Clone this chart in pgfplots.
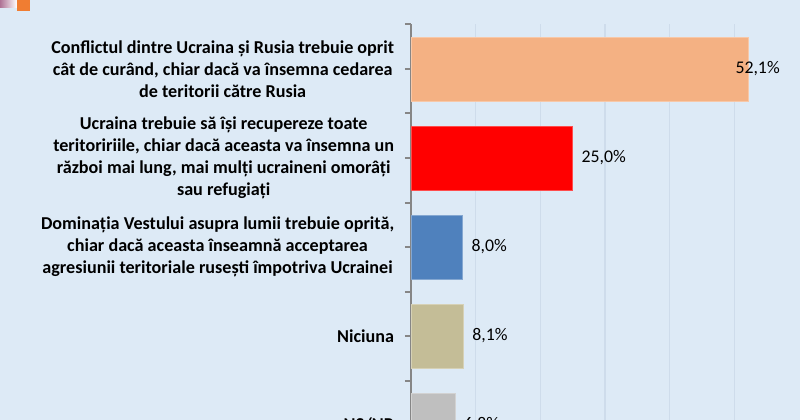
\documentclass[border=0pt]{standalone}
\usepackage{fontspec}
\setmainfont{Carlito}
\usepackage{pgfplots}
\pgfplotsset{compat=1.18}
\definecolor{bg}{RGB}{221,234,246}
\definecolor{gridc}{RGB}{206,220,235}
\definecolor{axc}{RGB}{134,134,134}
\definecolor{cA}{RGB}{244,177,131}
\definecolor{cB}{RGB}{255,0,0}
\definecolor{cC}{RGB}{79,129,189}
\definecolor{cD}{RGB}{196,189,151}
\definecolor{cE}{RGB}{191,191,191}
\definecolor{sq}{RGB}{240,125,50}
\definecolor{pk}{RGB}{175,115,150}
\begin{document}
\begin{tikzpicture}
\useasboundingbox (-308.25pt,37.125pt) rectangle (291.75pt,352.125pt);
\clip (-308.25pt,37.125pt) rectangle (291.75pt,352.125pt);
\fill[bg] (-308.25pt,37.125pt) rectangle (291.75pt,352.125pt);
\shade[left color=pk, right color=white] (-308.25pt,346.125pt) rectangle (-295.5pt,352.125pt);
\fill[sq] (-295.5pt,343.875pt) rectangle (-285.75pt,352.125pt);
\begin{axis}[
  at={(0,0)}, anchor=south west,
  scale only axis, width=291pt, height=333.75pt,
  xbar, bar width=0.72, bar shift=0pt,
  xmin=0, xmax=60, ymin=-0.5, ymax=4.5, y dir=reverse,
  enlarge x limits=false, enlarge y limits=false,
  clip=false,
  axis lines*=left,
  x axis line style={draw=none},
  y axis line style={draw=axc, line width=1.5pt},
  xtick={10,20,30,40,50}, xticklabels={}, xtick style={draw=none},
  xmajorgrids, major grid style={draw=gridc, line width=0.8pt},
  ytick={-0.5,0.5,1.5,2.5,3.5,4.5}, yticklabels={},
  ytick style={draw=axc, line width=1.5pt},
  major tick length=4.5pt, tick align=outside,
  extra y ticks={0,1,2,3,4},
  extra y tick labels={
    {Conflictul dintre Ucraina și Rusia trebuie oprit\\cât de curând, chiar dacă va însemna cedarea\\de teritorii către Rusia},
    {Ucraina trebuie să își recupereze toate\\teritoririile, chiar dacă aceasta va însemna un\\război mai lung, mai mulți ucraineni omorâți\\sau refugiați},
    {Dominația Vestului asupra lumii trebuie oprită,\\chiar dacă aceasta înseamnă acceptarea\\agresiunii teritoriale rusești împotriva Ucrainei},
    {Niciuna},
    {NS/NR}},
  extra y tick style={grid=none, tick style={draw=none}},
  yticklabel style={font=\bfseries\fontsize{13.6}{16.5}\selectfont, align=center, anchor=east, inner sep=0pt, xshift=-8pt, text=black},
  point meta=explicit symbolic,
  nodes near coords,
  every node near coord/.append style={font=\fontsize{13.35}{16}\selectfont, anchor=west, inner sep=0pt, xshift=6.5pt, text=black},
]
\addplot[fill=cA, draw=cA!70!white, every node near coord/.append style={xshift=-16pt}] coordinates {(52.1,0) [52,1\%]};
\addplot[fill=cB, draw=cB!70!white] coordinates {(25.0,1) [25,0\%]};
\addplot[fill=cC, draw=cC!70!white] coordinates {(8.0,2) [8,0\%]};
\addplot[fill=cD, draw=cD!70!white] coordinates {(8.1,3) [8,1\%]};
\addplot[fill=cE, draw=cE!70!white] coordinates {(6.8,4) [6,8\%]};
\end{axis}
\end{tikzpicture}
\end{document}
